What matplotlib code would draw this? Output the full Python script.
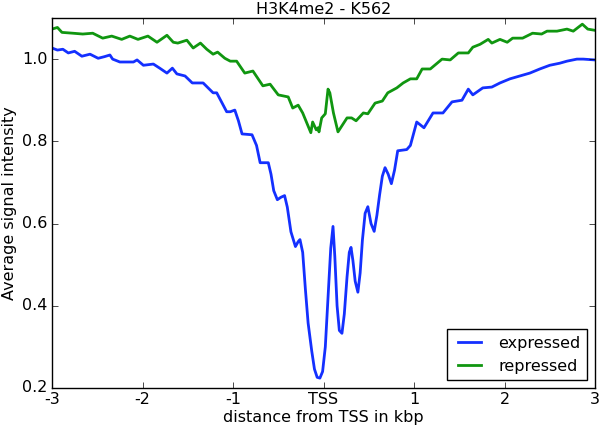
import matplotlib
matplotlib.use("Agg")
import matplotlib.pyplot as plt

plt.style.use("classic")
plt.rcParams['font.family'] = ['DejaVu Sans']

title = "H3K4me2 - K562"
xlabel = "distance from TSS in kbp"
ylabel = "Average signal intensity"
xtick_pos = [-3, -2, -1, 0, 1, 2, 3]
xtick_labels = ["-3", "-2", "-1", "TSS", "1", "2", "3"]
ytick_pos = [0.2, 0.4, 0.6, 0.8, 1.0]

expressed_x = [-3.0, -2.94, -2.88, -2.82, -2.75, -2.67, -2.58, -2.49, -2.42, -2.36, -2.33,
               -2.25, -2.10, -2.06, -1.99, -1.88, -1.81, -1.73, -1.67, -1.62, -1.53,
               -1.45, -1.33, -1.22, -1.18, -1.12, -1.07, -1.03, -0.98, -0.94, -0.90, -0.79,
               -0.74, -0.70, -0.61, -0.58, -0.55, -0.51, -0.47, -0.43, -0.40, -0.36, -0.31,
               -0.28, -0.26, -0.23, -0.20, -0.17, -0.13, -0.10, -0.07, -0.04, -0.01, 0.02,
               0.05, 0.08, 0.105, 0.125, 0.15, 0.175, 0.204, 0.23, 0.26, 0.285, 0.304,
               0.325, 0.35, 0.38, 0.405, 0.43, 0.46, 0.49, 0.525, 0.56, 0.59, 0.62, 0.65,
               0.68, 0.715, 0.75, 0.785, 0.82,
               0.92, 0.96, 1.03, 1.11, 1.21, 1.32, 1.42, 1.53, 1.60, 1.65, 1.76,
               1.86, 1.95, 2.06, 2.17, 2.28, 2.39, 2.50, 2.61, 2.69, 2.80, 2.87, 3.0]
expressed_y = [1.027, 1.022, 1.024, 1.015, 1.019, 1.007, 1.012, 1.002, 1.006, 1.010, 1.000,
               0.993, 0.993, 0.998, 0.985, 0.988, 0.978, 0.966, 0.978, 0.964, 0.959,
               0.942, 0.942, 0.918, 0.918, 0.893, 0.872, 0.872, 0.876, 0.850, 0.818, 0.816,
               0.790, 0.748, 0.748, 0.720, 0.680, 0.658, 0.664, 0.668, 0.640, 0.580, 0.544,
               0.556, 0.561, 0.530, 0.440, 0.358, 0.290, 0.246, 0.226, 0.224, 0.240, 0.300,
               0.420, 0.540, 0.593, 0.520, 0.400, 0.340, 0.333, 0.380, 0.470, 0.530, 0.542,
               0.510, 0.460, 0.433, 0.480, 0.560, 0.625, 0.641, 0.600, 0.581, 0.620, 0.670, 0.715,
               0.736, 0.720, 0.697, 0.730, 0.777,
               0.780, 0.790, 0.847, 0.833, 0.869, 0.869, 0.896, 0.900, 0.927, 0.913, 0.930,
               0.932, 0.942, 0.952, 0.959, 0.966, 0.976, 0.985, 0.990, 0.995, 1.000, 1.000, 0.998]

repressed_x = [-3.0, -2.94, -2.89, -2.77, -2.66, -2.55, -2.44, -2.34, -2.23, -2.14,
               -2.05, -1.94, -1.84, -1.73, -1.66, -1.61, -1.51, -1.44, -1.36, -1.29,
               -1.22, -1.17, -1.09, -1.03, -0.96, -0.87, -0.78, -0.67, -0.59, -0.50,
               -0.39, -0.34, -0.28, -0.23, -0.14, -0.12, -0.08, -0.06, -0.05, -0.02,
               0.02, 0.05, 0.07, 0.11, 0.16, 0.26, 0.31, 0.36, 0.44, 0.49, 0.57,
               0.65, 0.71, 0.81, 0.88, 0.96, 1.03, 1.09, 1.18, 1.31, 1.40, 1.49,
               1.60, 1.65, 1.73, 1.82, 1.86, 1.95, 2.03, 2.09, 2.20, 2.31, 2.41,
               2.47, 2.58, 2.69, 2.76, 2.86, 2.92, 3.0]
repressed_y = [1.073, 1.077, 1.065, 1.063, 1.061, 1.063, 1.051, 1.056, 1.048, 1.056,
               1.048, 1.056, 1.041, 1.058, 1.041, 1.039, 1.046, 1.027, 1.039, 1.024,
               1.012, 1.017, 1.002, 0.995, 0.995, 0.966, 0.971, 0.935, 0.939, 0.913,
               0.908, 0.881, 0.888, 0.869, 0.821, 0.847, 0.828, 0.833, 0.823, 0.857,
               0.867, 0.927, 0.918, 0.869, 0.823, 0.857, 0.857, 0.850, 0.869, 0.867, 0.893,
               0.898, 0.918, 0.930, 0.942, 0.952, 0.952, 0.976, 0.976, 1.000, 0.998, 1.015,
               1.015, 1.029, 1.036, 1.048, 1.039, 1.048, 1.041, 1.051, 1.051, 1.063, 1.061,
               1.068, 1.068, 1.073, 1.068, 1.085, 1.073, 1.070]

fig = plt.figure(figsize=(6.0, 4.3), dpi=100, facecolor="white")
ax = fig.add_axes([52/600, 42/430, 543/600, 370/430])
ax.plot(expressed_x, expressed_y, color="#1430ff", lw=2, label="expressed")
ax.plot(repressed_x, repressed_y, color="#109610", lw=2, label="repressed")
ax.set_xlim(-3, 3)
ax.set_ylim(0.2, 1.1)
ax.set_xticks(xtick_pos)
ax.set_xticklabels(xtick_labels)
ax.set_yticks(ytick_pos)
ax.set_yticklabels(["%.1f" % v for v in ytick_pos])
ax.tick_params(labelsize=11.5, pad=3)
ax.set_title(title, fontsize=11.5, pad=3)
ax.set_xlabel(xlabel, fontsize=11.5, labelpad=2)
ax.set_ylabel(ylabel, fontsize=11.5, labelpad=4)
leg = ax.legend(loc="lower right", fontsize=11.5)
fig.savefig("out.png", dpi=100, facecolor="white")
